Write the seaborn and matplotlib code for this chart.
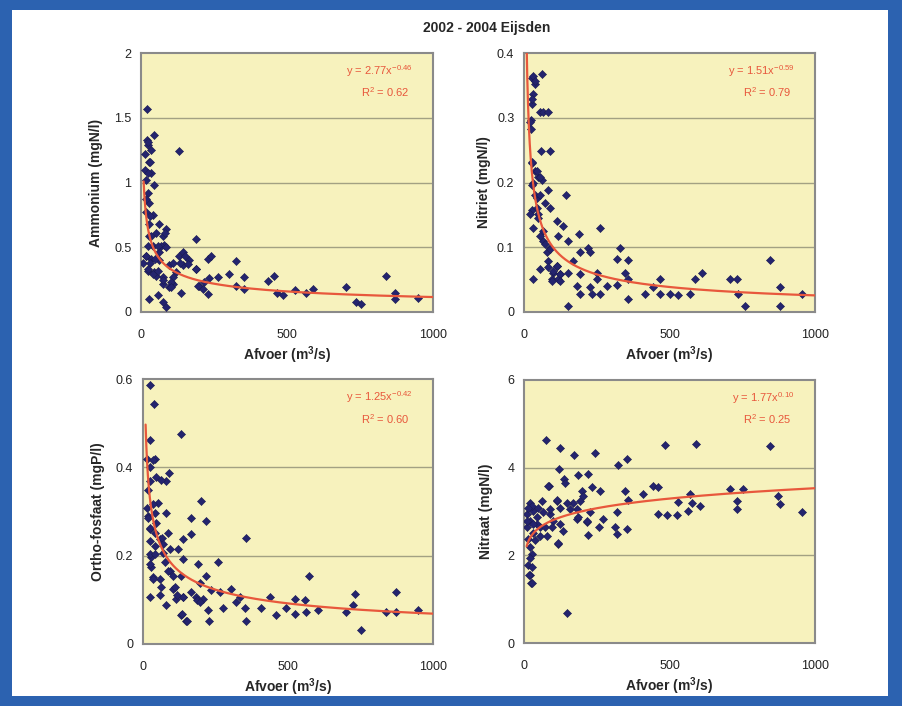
import numpy as np
import pandas as pd
import matplotlib
matplotlib.use("Agg")
import matplotlib.pyplot as plt
from matplotlib.patches import Rectangle
import seaborn as sns

sns.set_style("white")
plt.rcParams['font.family'] = ['Liberation Sans', 'DejaVu Sans']
plt.rcParams['mathtext.default'] = 'regular'

title = "2002 - 2004 Eijsden"
xlabel = "Afvoer (m$^3$/s)"

# ---------------- data ----------------
amm_x = [19, 46, 19, 23, 15, 29, 131, 15, 34, 17, 46, 23, 29, 17, 40, 29, 63, 86, 189, 29,
         51, 74, 80, 17, 34, 6, 63, 97, 131, 143, 166, 229, 240, 326, 23, 46, 74, 109, 120, 189,
         200, 217, 234, 263, 303, 326, 354, 354, 434, 457, 466, 486, 526, 566, 589, 703, 737, 754, 840, 869,
         869, 949, 29, 74, 86, 137, 229, 109, 69, 40, 63, 109, 143, 97, 74, 51, 57,
         30, 47, 24, 41, 58, 75, 104, 104, 132, 150, 161, 189, 195, 212, 58, 87, 81, 18, 24, 35,
         30, 18, 24, 30, 24, 35]
amm_y = [1.57, 1.37, 1.33, 1.29, 1.22, 1.16, 1.24, 1.10, 1.07, 1.02, 0.98, 0.92, 0.84, 0.77, 0.75, 0.68, 0.68, 0.64, 0.56, 0.59,
         0.61, 0.59, 0.52, 0.43, 0.41, 0.38, 0.40, 0.36, 0.43, 0.46, 0.40, 0.41, 0.43, 0.39, 0.32, 0.31, 0.27, 0.22, 0.31, 0.33,
         0.20, 0.23, 0.26, 0.27, 0.29, 0.20, 0.27, 0.18, 0.24, 0.28, 0.15, 0.13, 0.17, 0.15, 0.18, 0.19, 0.08, 0.06, 0.28, 0.15,
         0.10, 0.11, 0.10, 0.08, 0.04, 0.15, 0.14, 0.27, 0.51, 0.51, 0.46, 0.38, 0.36, 0.19, 0.22, 0.28, 0.13,
         0.38, 0.41, 0.33, 0.29, 0.32, 0.25, 0.23, 0.19, 0.38, 0.43, 0.37, 0.33, 0.20, 0.18, 0.51, 0.50, 0.61, 0.43, 0.51, 0.59,
         0.74, 0.87, 1.07, 1.16, 1.31, 1.25]

nit_x = [61, 26, 38, 32, 26, 55, 67, 84, 23, 23, 57, 89, 26, 38, 49, 61, 32, 84, 144, 44,
         72, 89, 26, 49, 112, 133, 261, 32, 67, 118, 190, 67, 152, 221, 330, 89, 227, 193, 318, 358,
         170, 84, 112, 845, 348, 101, 124, 152, 250, 32, 95, 118, 193, 250, 358, 467, 588, 611, 708, 731,
         318, 181, 227, 284, 444, 467, 502, 530, 570, 416, 193, 233, 261, 737, 880, 954, 358, 152, 760, 880,
         55, 78, 32, 38, 26, 21, 26, 44, 55, 26, 38, 55, 44, 21, 49, 55, 72, 89, 84, 101, 124, 95, 124, 112]
nit_y = [0.368, 0.362, 0.352, 0.337, 0.321, 0.309, 0.309, 0.309, 0.296, 0.283, 0.248, 0.248, 0.230, 0.217, 0.209, 0.204, 0.199, 0.189, 0.180, 0.176,
         0.168, 0.161, 0.158, 0.151, 0.140, 0.133, 0.130, 0.130, 0.125, 0.117, 0.120, 0.110, 0.110, 0.099, 0.099, 0.099, 0.092, 0.092, 0.082, 0.081,
         0.079, 0.079, 0.071, 0.081, 0.061, 0.061, 0.059, 0.061, 0.061, 0.051, 0.051, 0.051, 0.059, 0.051, 0.051, 0.051, 0.051, 0.061, 0.051, 0.051,
         0.041, 0.040, 0.038, 0.040, 0.038, 0.028, 0.028, 0.026, 0.028, 0.028, 0.028, 0.028, 0.028, 0.028, 0.038, 0.028, 0.020, 0.010, 0.010, 0.010,
         0.066, 0.092, 0.365, 0.357, 0.329, 0.293, 0.232, 0.217, 0.209, 0.196, 0.181, 0.181, 0.161, 0.151, 0.145, 0.117, 0.105, 0.097, 0.069, 0.064, 0.059, 0.048, 0.048, 0.071]

pho_x = [25, 37, 132, 23, 40, 23, 90, 46, 80, 63, 17, 199, 52, 80, 17, 167, 218, 46, 23, 86,
         167, 138, 354, 57, 40, 92, 121, 69, 29, 138, 259, 190, 29, 92, 132, 216, 572, 34, 57, 63,
         103, 195, 236, 264, 305, 138, 167, 184, 207, 333, 437, 523, 557, 730, 871, 25, 115, 224, 276, 322,
         351, 408, 494, 563, 603, 460, 523, 701, 724, 839, 871, 948, 132, 149, 226, 354, 751, 80, 57,
         13, 36, 24, 13, 36, 41, 18, 24, 41, 64, 70, 24, 24, 41, 76, 24, 87, 105, 36, 110, 139, 185, 197, 116, 133, 151]
pho_y = [0.587, 0.543, 0.475, 0.461, 0.420, 0.401, 0.387, 0.379, 0.368, 0.372, 0.349, 0.323, 0.319, 0.297, 0.290, 0.286, 0.278, 0.275, 0.260, 0.252,
         0.249, 0.237, 0.239, 0.237, 0.222, 0.215, 0.215, 0.207, 0.196, 0.193, 0.185, 0.181, 0.174, 0.166, 0.155, 0.155, 0.155, 0.151, 0.148, 0.129,
         0.125, 0.137, 0.122, 0.118, 0.125, 0.107, 0.118, 0.107, 0.103, 0.107, 0.107, 0.103, 0.099, 0.114, 0.118, 0.107, 0.103, 0.077, 0.081, 0.096,
         0.081, 0.081, 0.081, 0.073, 0.077, 0.066, 0.067, 0.072, 0.088, 0.073, 0.072, 0.077, 0.066, 0.051, 0.051, 0.051, 0.032, 0.088, 0.110,
         0.420, 0.416, 0.368, 0.308, 0.316, 0.297, 0.286, 0.263, 0.252, 0.241, 0.226, 0.233, 0.204, 0.204, 0.185, 0.181, 0.166, 0.155, 0.148, 0.129, 0.107, 0.099, 0.095, 0.110, 0.069, 0.051]

nat_x = [76, 124, 172, 244, 485, 591, 845, 355, 324, 121, 187, 221, 137, 141, 87, 232, 261, 198, 347, 410,
         444, 462, 570, 708, 754, 874, 880, 358, 112, 530, 576, 605, 731, 731, 565, 525, 490, 462, 954, 318,
         181, 227, 273, 181, 215, 258, 313, 318, 353, 221, 118, 147, 21, 23,
         83, 112, 21, 32, 21, 44, 65, 89, 100, 124, 134, 55, 32, 15, 38, 79, 117, 21, 27, 21, 15, 27, 17, 27,
         168, 192, 203, 158, 186, 216, 27, 48, 10, 44, 72, 96, 10, 55, 10, 31, 15, 62, 89, 124, 148]
nat_y = [4.63, 4.45, 4.29, 4.34, 4.51, 4.53, 4.49, 4.19, 4.05, 3.96, 3.83, 3.85, 3.74, 3.66, 3.58, 3.55, 3.47, 3.47, 3.47, 3.40,
         3.58, 3.55, 3.40, 3.52, 3.51, 3.36, 3.17, 3.27, 3.25, 3.22, 3.19, 3.13, 3.25, 3.06, 3.02, 2.91, 2.91, 2.94, 2.98, 2.98,
         3.06, 2.98, 2.83, 2.83, 2.75, 2.64, 2.64, 2.49, 2.60, 2.47, 2.26, 0.68, 1.55, 1.36,
         3.58, 3.27, 3.20, 3.02, 2.79, 2.87, 2.98, 2.95, 2.79, 2.72, 2.56, 2.64, 2.50, 2.38, 2.34, 2.45, 2.27, 2.18, 2.04, 1.93, 1.77, 1.73, 1.54, 1.36,
         3.20, 3.24, 3.36, 3.06, 2.87, 2.79, 3.13, 3.09, 2.95, 2.72, 2.64, 2.64, 2.64, 2.45, 2.79, 2.72, 3.09, 3.24, 3.06, 3.09, 3.20]

ylabels = ["Ammonium (mgN/l)", "Nitriet (mgN/l)", "Ortho-fosfaat (mgP/l)", "Nitraat (mgN/l)"]
y_max = [2, 0.4, 0.6, 6]
y_ticks = [[0, 0.5, 1, 1.5, 2], [0, 0.1, 0.2, 0.3, 0.4], [0, 0.2, 0.4, 0.6], [0, 2, 4, 6]]
y_ticklabels = [["0", "0.5", "1", "1.5", "2"], ["0", "0.1", "0.2", "0.3", "0.4"],
                ["0", "0.2", "0.4", "0.6"], ["0", "2", "4", "6"]]
x_ticks = [0, 500, 1000]
x_ticklabels = ["0", "500", "1000"]

# power-law trend lines y = a * x^b
fit_a = [2.77, 1.51, 1.25, 1.77]
fit_b = [-0.46, -0.59, -0.42, 0.10]
fit_a_txt = ["2.77", "1.51", "1.25", "1.77"]
fit_b_txt = ["-0.46", "-0.59", "-0.42", "0.10"]
r2_txt = ["0.62", "0.79", "0.60", "0.25"]
fit_xmin = 9

series = [(amm_x, amm_y), (nit_x, nit_y), (pho_x, pho_y), (nat_x, nat_y)]

# ---------------- figure ----------------
fig = plt.figure(figsize=(9.02, 7.06), dpi=100)
fig.patch.set_facecolor("#2c62b0")
fig.add_artist(Rectangle((12 / 902, 1 - 696 / 706), (888 - 12) / 902, (696 - 10) / 706,
                         transform=fig.transFigure, facecolor="white", edgecolor="none", zorder=0))

positions = [
    [141 / 902, 1 - 312 / 706, 292 / 902, 259 / 706],
    [524 / 902, 1 - 312 / 706, 291 / 902, 259 / 706],
    [143 / 902, 1 - 644 / 706, 290 / 902, 265 / 706],
    [524 / 902, 1 - 643 / 706, 291 / 902, 263 / 706],
]
ylabelpads = [8, 4, 8, 10]

bg = "#f7f2bd"
grid_c = "#a3a183"
spine_c = "#8a8a8a"
pt_c = "#24246e"
line_c = "#e8583c"
eq_c = "#e8583c"

for i, (xs, ys) in enumerate(series):
    ax = fig.add_axes(positions[i])
    ax.set_facecolor(bg)
    df = pd.DataFrame({"x": xs, "y": ys})
    fx = np.geomspace(fit_xmin, 1000, 300)
    fdf = pd.DataFrame({"x": fx, "y": fit_a[i] * fx ** fit_b[i]})
    for yt in y_ticks[i][1:-1]:
        ax.axhline(yt, color=grid_c, lw=1.0, zorder=1)
    sns.scatterplot(data=df, x="x", y="y", ax=ax, marker="D", s=17, color=pt_c,
                    edgecolor="#1a1a50", linewidth=0.4, zorder=3)
    sns.lineplot(data=fdf, x="x", y="y", ax=ax, color=line_c, lw=1.6, zorder=4)
    ax.set_xlim(0, 1000)
    ax.set_ylim(0, y_max[i])
    ax.set_xticks(x_ticks)
    ax.set_xticklabels(x_ticklabels, fontsize=9)
    ax.set_yticks(y_ticks[i])
    ax.set_yticklabels(y_ticklabels[i], fontsize=9)
    ax.tick_params(axis="both", length=3, width=1, color=spine_c, labelcolor="#222222")
    ax.tick_params(axis="x", pad=9)
    ax.tick_params(axis="y", pad=4)
    for s in ax.spines.values():
        s.set_color(spine_c)
        s.set_linewidth(1.5)
    ax.set_xlabel(xlabel, fontsize=10, fontweight="bold", labelpad=3)
    ax.set_ylabel(ylabels[i], fontsize=10, fontweight="bold", labelpad=ylabelpads[i])
    ax.text(0.93, 0.93, "y = %sx$^{%s}$" % (fit_a_txt[i], fit_b_txt[i]), transform=ax.transAxes,
            ha="right", va="center", fontsize=8, color=eq_c)
    ax.text(0.92, 0.85, "R$^2$ = %s" % r2_txt[i], transform=ax.transAxes,
            ha="right", va="center", fontsize=8, color=eq_c)

fig.text(487 / 902, 1 - 28 / 706, title, ha="center", va="center", fontsize=10, fontweight="bold")

fig.savefig("out.png", dpi=100, facecolor=fig.get_facecolor())
